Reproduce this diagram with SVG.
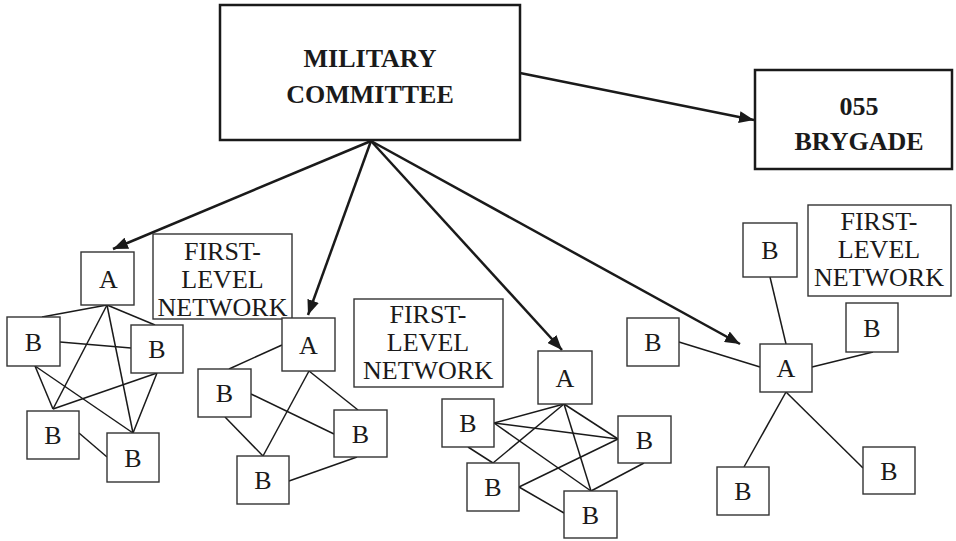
<svg xmlns="http://www.w3.org/2000/svg" width="956" height="541" viewBox="0 0 956 541">
<defs>
<marker id="ah" markerUnits="userSpaceOnUse" markerWidth="16" markerHeight="12" refX="15" refY="6" orient="auto">
<path d="M0,0 L15,6 L0,12 z" fill="#1a1a1a"/>
</marker>
<style>
.big{fill:#fff;stroke:#1a1a1a;stroke-width:2.5}
.nd{fill:#fff;stroke:#333;stroke-width:1.4}
.lb{fill:#fff;stroke:#333;stroke-width:1.4}
.bt{font-family:"Liberation Serif","Times New Roman",serif;font-weight:bold;font-size:26px;fill:#1a1a1a;text-anchor:middle}
.nt{font-family:"Liberation Serif","Times New Roman",serif;font-size:26px;fill:#1a1a1a;text-anchor:middle}
.lt{font-family:"Liberation Serif","Times New Roman",serif;font-size:26px;fill:#1a1a1a;text-anchor:middle}
.arr{stroke:#1a1a1a;stroke-width:2.5;fill:none;marker-end:url(#ah)}
.ln{stroke:#1a1a1a;stroke-width:1.5;fill:none}
</style>
</defs>
<rect width="956" height="541" fill="#fff"/>
<g id="connectors">
<line class="arr" x1="520" y1="73" x2="754" y2="120"/>
<line class="arr" x1="371" y1="141" x2="113" y2="249"/>
<line class="arr" x1="371" y1="141" x2="308" y2="315"/>
<line class="arr" x1="371" y1="141" x2="562" y2="350"/>
<line class="arr" x1="371" y1="141" x2="740" y2="344"/>
<!-- cluster 1 -->
<line class="ln" x1="107" y1="305" x2="42" y2="317"/>
<line class="ln" x1="107" y1="305" x2="155" y2="325"/>
<line class="ln" x1="107" y1="305" x2="53" y2="409"/>
<line class="ln" x1="107" y1="305" x2="133" y2="433"/>
<line class="ln" x1="60" y1="342" x2="131" y2="348"/>
<line class="ln" x1="35" y1="366" x2="53" y2="409"/>
<line class="ln" x1="35" y1="366" x2="133" y2="433"/>
<line class="ln" x1="157" y1="373" x2="53" y2="409"/>
<line class="ln" x1="157" y1="373" x2="133" y2="433"/>
<line class="ln" x1="79" y1="433" x2="107" y2="457"/>
<!-- cluster 2 -->
<line class="ln" x1="282" y1="345" x2="229" y2="369"/>
<line class="ln" x1="309" y1="371" x2="263" y2="456"/>
<line class="ln" x1="309" y1="371" x2="358" y2="410"/>
<line class="ln" x1="251" y1="394" x2="334" y2="434"/>
<line class="ln" x1="225" y1="417" x2="263" y2="456"/>
<line class="ln" x1="289" y1="481" x2="357" y2="457"/>
<!-- cluster 3 -->
<line class="ln" x1="564" y1="404" x2="494" y2="423"/>
<line class="ln" x1="564" y1="404" x2="493" y2="463"/>
<line class="ln" x1="564" y1="404" x2="618" y2="439"/>
<line class="ln" x1="564" y1="404" x2="591" y2="491"/>
<line class="ln" x1="494" y1="423" x2="618" y2="439"/>
<line class="ln" x1="494" y1="423" x2="591" y2="491"/>
<line class="ln" x1="468" y1="447" x2="493" y2="463"/>
<line class="ln" x1="519" y1="487" x2="618" y2="439"/>
<line class="ln" x1="519" y1="487" x2="564" y2="513"/>
<line class="ln" x1="644" y1="463" x2="591" y2="491"/>
<!-- cluster 4 -->
<line class="ln" x1="770" y1="277" x2="786" y2="344"/>
<line class="ln" x1="679" y1="342" x2="760" y2="367"/>
<line class="ln" x1="812" y1="367" x2="873" y2="352"/>
<line class="ln" x1="786" y1="392" x2="744" y2="467"/>
<line class="ln" x1="786" y1="392" x2="863" y2="468"/>
</g>
<g id="military-committee">
<rect class="big" x="220" y="5" width="300" height="135"/>
<text class="bt" x="370" y="67">MILITARY</text>
<text class="bt" x="370" y="103">COMMITTEE</text>
</g>
<g id="brygade-055">
<rect class="big" x="755" y="70" width="197" height="99"/>
<text class="bt" x="859" y="115">055</text>
<text class="bt" x="859" y="150">BRYGADE</text>
</g>
<g id="label-1">
<rect class="lb" x="153" y="234" width="139" height="85"/>
<text class="lt" x="222.5" y="260">FIRST-</text>
<text class="lt" x="222.5" y="288">LEVEL</text>
<text class="lt" x="222.5" y="316">NETWORK</text>
</g>
<g id="label-2">
<rect class="lb" x="354" y="299" width="149" height="88"/>
<text class="lt" x="428" y="323">FIRST-</text>
<text class="lt" x="428" y="351">LEVEL</text>
<text class="lt" x="428" y="379">NETWORK</text>
</g>
<g id="label-3">
<rect class="lb" x="808" y="205" width="143" height="91"/>
<text class="lt" x="879" y="230">FIRST-</text>
<text class="lt" x="879" y="258">LEVEL</text>
<text class="lt" x="879" y="286">NETWORK</text>
</g>
<g id="c1-a"><rect class="nd" x="81" y="252" width="53" height="53"/><text class="nt" x="108.5" y="288">A</text></g>
<g id="c1-b1"><rect class="nd" x="7" y="317" width="53" height="49"/><text class="nt" x="33.5" y="351">B</text></g>
<g id="c1-b2"><rect class="nd" x="131" y="325" width="52" height="48"/><text class="nt" x="157" y="358">B</text></g>
<g id="c1-b3"><rect class="nd" x="27" y="411" width="52" height="48"/><text class="nt" x="53" y="444">B</text></g>
<g id="c1-b4"><rect class="nd" x="107" y="433" width="52" height="49"/><text class="nt" x="133" y="467">B</text></g>
<g id="c2-a"><rect class="nd" x="282" y="318" width="53" height="53"/><text class="nt" x="308.5" y="354">A</text></g>
<g id="c2-b1"><rect class="nd" x="198" y="369" width="53" height="48"/><text class="nt" x="224.5" y="402">B</text></g>
<g id="c2-b2"><rect class="nd" x="334" y="410" width="53" height="47"/><text class="nt" x="360.5" y="443">B</text></g>
<g id="c2-b3"><rect class="nd" x="237" y="456" width="52" height="48"/><text class="nt" x="263" y="489">B</text></g>
<g id="c3-a"><rect class="nd" x="538" y="351" width="54" height="53"/><text class="nt" x="565" y="387">A</text></g>
<g id="c3-b1"><rect class="nd" x="442" y="399" width="52" height="48"/><text class="nt" x="468" y="432">B</text></g>
<g id="c3-b2"><rect class="nd" x="618" y="416" width="53" height="47"/><text class="nt" x="644.5" y="449">B</text></g>
<g id="c3-b3"><rect class="nd" x="467" y="463" width="52" height="48"/><text class="nt" x="493" y="496">B</text></g>
<g id="c3-b4"><rect class="nd" x="564" y="491" width="53" height="47"/><text class="nt" x="590.5" y="524">B</text></g>
<g id="c4-a"><rect class="nd" x="760" y="344" width="52" height="48"/><text class="nt" x="786" y="377">A</text></g>
<g id="c4-btop"><rect class="nd" x="743" y="223" width="54" height="54"/><text class="nt" x="770" y="259">B</text></g>
<g id="c4-bleft"><rect class="nd" x="627" y="318" width="52" height="48"/><text class="nt" x="653" y="351">B</text></g>
<g id="c4-bright"><rect class="nd" x="846" y="303" width="52" height="49"/><text class="nt" x="872" y="337">B</text></g>
<g id="c4-bbl"><rect class="nd" x="717" y="467" width="52" height="48"/><text class="nt" x="743" y="500">B</text></g>
<g id="c4-bbr"><rect class="nd" x="863" y="447" width="52" height="47"/><text class="nt" x="889" y="480">B</text></g>
</svg>
